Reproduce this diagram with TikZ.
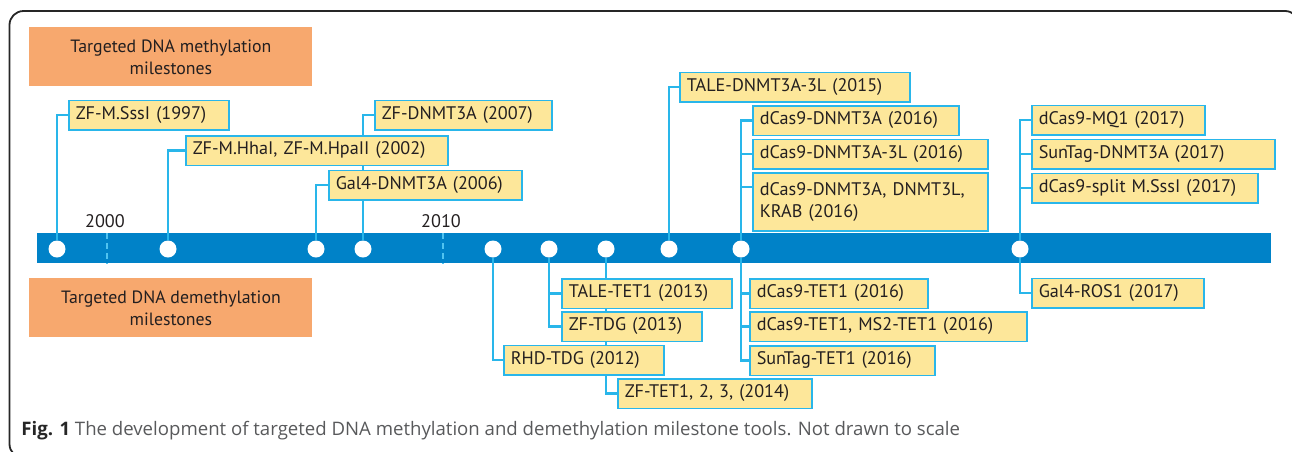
\documentclass[tikz,border=0pt]{standalone}
\usepackage{fontspec}
\setmainfont{PT Sans}
\newfontfamily\capfont{Open Sans}
\usepackage{tikz}
\usetikzlibrary{backgrounds}

\definecolor{barblue}{RGB}{0,130,200}
\definecolor{lineblue}{RGB}{41,182,234}
\definecolor{tickblue}{RGB}{80,195,240}
\definecolor{boxyellow}{RGB}{253,231,154}
\definecolor{headorange}{RGB}{247,168,110}
\definecolor{inktext}{RGB}{35,31,32}
\definecolor{capgray}{RGB}{88,89,91}

\tikzset{
  mile/.style={draw=lineblue, fill=boxyellow, line width=0.75pt, anchor=north west,
    inner xsep=3.5pt, inner ysep=0pt, align=left, text=inktext,
    font=\fontsize{9.1}{11}\selectfont, minimum height=14.75pt,
    minimum width=#1*0.5pt, text width=#1*0.5pt-7pt},
  head/.style={fill=headorange, anchor=north west, minimum width=141.5pt,
    minimum height=29.5pt, align=center, text=inktext, font=\fontsize{8.9}{11}\selectfont},
  dot/.style={circle, fill=white, inner sep=0pt, minimum size=8.5pt},
  link/.style={draw=lineblue, line width=1.3pt},
  yearlbl/.style={anchor=base, inner sep=0pt, text=inktext, font=\fontsize{9.1}{11}\selectfont},
  yeartick/.style={draw=tickblue, line width=1.2pt, dash pattern=on 3pt off 2pt}
}

\begin{document}
\begin{tikzpicture}[x=0.5pt,y=-0.5pt]
  \useasboundingbox (0,0) rectangle (1292,451);
  \begin{scope}
    \clip (0,0) rectangle (1292,451);
    \draw[line width=0.9pt, rounded corners=7pt, black!85] (9.5,11) rectangle (1299,458);
  \end{scope}

  % headings
  \node[head] (hmeth) at (29,27) {Targeted DNA methylation\\milestones};
  \node[head] (hdemeth) at (29,278) {Targeted DNA demethylation\\milestones};

  % years
  \node[yearlbl] (y2000) at (105,227) {2000};
  \node[yearlbl] (y2010) at (441,227) {2010};

  % points on the time line
  \foreach \name/\xx in {c1/57,c2/168,c3/316,c4/363,c5/493,c6/549,c7/606,c8/669,c9/741,c10/1020}
    \node[dot] (\name) at (\xx,249) {};

  % methylation tools
  \node[mile=160] (m1) at (68,99.5) {ZF-M.SssI (1997)};
  \node[mile=262] (m2) at (185,135) {ZF-M.HhaI, ZF-M.HpaII (2002)};
  \node[mile=193] (m3) at (328,169.5) {Gal4-DNMT3A (2006)};
  \node[mile=177] (m4) at (374,99.5) {ZF-DNMT3A (2007)};
  \node[mile=230] (m5) at (679,71.5) {TALE-DNMT3A-3L (2015)};
  \node[mile=206] (m6) at (752,105) {dCas9-DNMT3A (2016)};
  \node[mile=235] (m7) at (752,138.5) {dCas9-DNMT3A-3L (2016)};
  \node[mile=235,minimum height=29pt] (m8) at (752,172) {dCas9-DNMT3A, DNMT3L,\\KRAB (2016)};
  \node[mile=173] (m9) at (1031,104.5) {dCas9-MQ1 (2017)};
  \node[mile=243] (m10) at (1031,138.5) {SunTag-DNMT3A (2017)};
  \node[mile=226] (m11) at (1031,172.5) {dCas9-split M.SssI (2017)};

  % demethylation tools
  \node[mile=170] (d1) at (561,278) {TALE-TET1 (2013)};
  \node[mile=140] (d2) at (561,311) {ZF-TDG (2013)};
  \node[mile=160] (d3) at (503,344.5) {RHD-TDG (2012)};
  \node[mile=194] (d4) at (617,378) {ZF-TET1, 2, 3, (2014)};
  \node[mile=178] (d5) at (749,278) {dCas9-TET1 (2016)};
  \node[mile=277] (d6) at (749,311) {dCas9-TET1, MS2-TET1 (2016)};
  \node[mile=185] (d7) at (749,345) {SunTag-TET1 (2016)};
  \node[mile=172] (d8) at (1031,277.5) {Gal4-ROS1 (2017)};

  \begin{pgfonlayer}{background}
    \fill[barblue] (37,233) rectangle (1271,263);
    \draw[yeartick] (107,233) -- (107,264);
    \draw[yeartick] (443,233) -- (443,264);
    \foreach \from/\to in {c1/m1,c2/m2,c3/m3,c4/m4,c8/m5,c9/m6,c9/m7,c10/m9,c10/m10,c10/m11,
                           c5/d3,c6/d1,c6/d2,c7/d4,c9/d5,c9/d6,c9/d7,c10/d8}
      \draw[link] (\from) |- (\to);
    \draw[link] (c9) |- ([yshift=-7.5pt]m8.north west);
  \end{pgfonlayer}

  \node[anchor=base west, inner sep=0pt, text=capgray, font=\capfont\fontsize{9.3}{11}\selectfont] (cap) at (21,435)
    {{\color{black!85}\textbf{Fig. 1}} The development of targeted DNA methylation and demethylation milestone tools. Not drawn to scale};
\end{tikzpicture}
\end{document}
